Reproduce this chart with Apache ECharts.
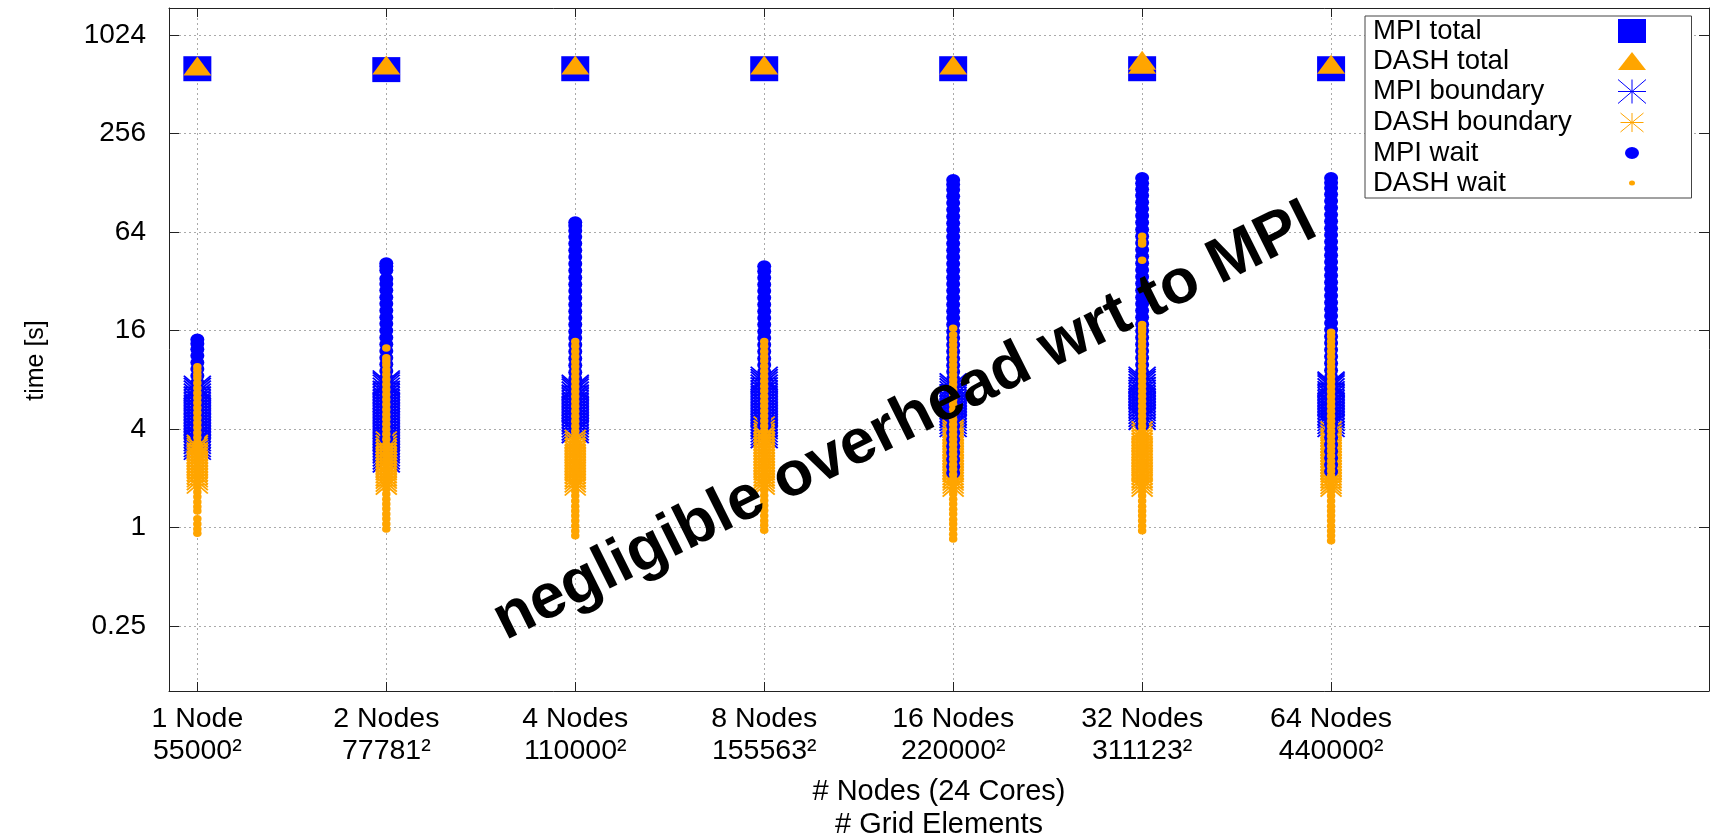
<!DOCTYPE html>
<html><head><meta charset="utf-8">
<script src="https://cdn.jsdelivr.net/npm/echarts@6/dist/echarts.min.js"></script>
<style>html,body{margin:0;padding:0;background:#fff}#c{width:1714px;height:835px}</style>
</head><body><div id="c"></div>
<script>
// ---------------- data ----------------
const categories = ['1 Node', '2 Nodes', '4 Nodes', '8 Nodes', '16 Nodes', '32 Nodes', '64 Nodes'];
const gridElements = ['55000²', '77781²', '110000²', '155563²', '220000²', '311123²', '440000²'];
const yTicks = [0.25, 1, 4, 16, 64, 256, 1024];

const mpiTotal = [[638], [630], [638], [638], [638], [638], [638]];
const dashTotal = [[664], [672], [672], [672], [672], [680, 718], [680]];

const mpiBoundary = [
  [3.05, 3.17, 3.31, 3.44, 3.6, 3.74, 3.91, 4.07, 4.25, 4.43, 4.61, 4.81, 5.02, 5.23, 5.46, 5.69, 5.93, 6.18, 6.45, 6.72, 6.98, 7.2],
  [2.55, 2.66, 2.78, 2.9, 3.02, 3.15, 3.29, 3.43, 3.58, 3.73, 3.89, 4.06, 4.23, 4.41, 4.6, 4.8, 5.0, 5.22, 5.44, 5.67, 5.92, 6.17, 6.44, 6.71, 7.0, 7.3, 7.55, 7.75],
  [3.85, 4.01, 4.18, 4.36, 4.55, 4.74, 4.95, 5.16, 5.38, 5.61, 5.85, 6.1, 6.36, 6.63, 6.92, 7.12, 7.3],
  [3.59, 3.74, 3.9, 4.07, 4.24, 4.42, 4.61, 4.81, 5.02, 5.23, 5.45, 5.69, 5.93, 6.19, 6.45, 6.73, 7.02, 7.32, 7.63, 7.91, 8.17],
  [4.2, 4.38, 4.57, 4.76, 4.97, 5.18, 5.4, 5.63, 5.87, 6.12, 6.38, 6.66, 6.94, 7.2, 7.45],
  [4.65, 4.85, 5.05, 5.27, 5.5, 5.73, 5.98, 6.23, 6.5, 6.78, 7.07, 7.37, 7.68, 7.93, 8.17],
  [4.2, 4.38, 4.57, 4.76, 4.97, 5.18, 5.4, 5.63, 5.87, 6.12, 6.38, 6.66, 6.94, 7.24, 7.45, 7.62]
];
const dashBoundary = [
  [1.83, 1.92, 2.0, 2.09, 2.18, 2.27, 2.37, 2.47, 2.58, 2.69, 2.8, 2.92, 3.05, 3.15, 3.24],
  [1.8, 1.88, 1.96, 2.04, 2.13, 2.22, 2.32, 2.42, 2.52, 2.63, 2.74, 2.86, 2.98, 3.11, 3.24, 3.4],
  [1.78, 1.86, 1.94, 2.02, 2.11, 2.2, 2.29, 2.39, 2.49, 2.6, 2.71, 2.83, 2.95, 3.08, 3.21, 3.35, 3.48],
  [1.8, 1.88, 1.96, 2.04, 2.13, 2.22, 2.32, 2.42, 2.52, 2.63, 2.74, 2.86, 2.98, 3.11, 3.24, 3.38, 3.53, 3.68, 3.84, 4.0, 4.2],
  [1.75, 1.83, 1.91, 1.99, 2.07, 2.16, 2.25, 2.35, 2.45, 2.56, 2.67, 2.78, 2.9, 3.03, 3.16, 3.3, 3.44, 3.59, 3.75, 3.88, 4.02],
  [1.75, 1.83, 1.91, 1.99, 2.08, 2.17, 2.26, 2.36, 2.46, 2.57, 2.68, 2.8, 2.92, 3.04, 3.17, 3.31, 3.45, 3.6, 3.76, 3.92],
  [1.75, 1.82, 1.9, 1.98, 2.07, 2.16, 2.25, 2.35, 2.45, 2.55, 2.66, 2.78, 2.9, 3.02, 3.15, 3.29, 3.43, 3.58, 3.74, 3.92]
];
const mpiWait = [
  [3.6, 3.95, 4.35, 4.8, 5.25, 5.8, 6.35, 7.0, 7.7, 8.45, 9.3, 10.2, 11.2, 12.3, 13.3, 14.1],
  [3.5, 3.85, 4.25, 4.65, 5.1, 5.6, 6.2, 6.8, 7.5, 8.25, 9.05, 9.95, 10.9, 12.0, 13.2, 14.5, 16.0, 17.6, 19.3, 21.2, 23.3, 25.6, 28.2, 30.8, 33.2, 37.4, 39.5, 41.2],
  [4.2, 4.6, 5.05, 5.55, 6.1, 6.7, 7.4, 8.1, 8.9, 9.8, 10.8, 11.9, 13.1, 14.4, 15.8, 17.4, 19.1, 21.0, 23.1, 25.4, 27.9, 30.7, 33.8, 37.2, 40.9, 45.0, 49.5, 54.4, 59.8, 65.2, 70.0, 73.5],
  [4.2, 4.6, 5.1, 5.6, 6.15, 6.75, 7.4, 8.15, 8.95, 9.85, 10.8, 11.9, 13.1, 14.4, 15.8, 17.4, 19.1, 21.0, 23.1, 25.4, 27.9, 30.6, 33.6, 36.8, 39.6],
  [2.15, 2.36, 2.6, 2.86, 3.14, 3.45, 3.8, 4.18, 4.6, 5.05, 5.55, 6.1, 6.72, 7.4, 8.12, 8.95, 9.82, 10.8, 11.9, 13.1, 14.4, 15.8, 17.4, 19.1, 21.0, 23.1, 25.4, 28.0, 30.8, 33.8, 37.2, 40.9, 45.0, 49.5, 54.5, 59.9, 65.9, 72.5, 79.7, 87.7, 96.4, 106, 116, 125, 133],
  [4.2, 4.62, 5.08, 5.58, 6.14, 6.75, 7.43, 8.17, 8.99, 9.88, 10.9, 12.0, 13.2, 14.5, 15.9, 17.5, 19.3, 21.2, 23.3, 25.6, 28.2, 31.0, 34.1, 37.5, 41.3, 45.4, 49.9, 54.9, 60.4, 66.4, 73.1, 80.4, 88.4, 97.2, 107, 117, 127, 137],
  [2.2, 2.42, 2.66, 2.92, 3.21, 3.53, 3.88, 4.27, 4.7, 5.17, 5.68, 6.25, 6.88, 7.56, 8.32, 9.15, 10.1, 11.1, 12.2, 13.4, 14.7, 16.2, 17.8, 19.6, 21.6, 23.7, 26.1, 28.7, 31.6, 34.7, 38.2, 42.0, 46.2, 50.8, 55.9, 61.5, 67.6, 74.4, 81.8, 90.0, 99.0, 109, 119, 128, 137]
];
const dashWait = [
  [0.92, 0.98, 1.05, 1.13, 1.26, 1.34, 1.43, 1.54, 1.65, 1.77, 1.9, 2.04, 2.18, 2.34, 2.51, 2.69, 2.88, 3.09, 3.31, 3.55, 3.8, 4.08, 4.37, 4.69, 5.03, 5.39, 5.78, 6.2, 6.65, 7.13, 7.64, 8.2, 8.62, 9.1, 9.6],
  [0.98, 1.05, 1.13, 1.21, 1.3, 1.39, 1.49, 1.6, 1.72, 1.84, 1.98, 2.12, 2.27, 2.44, 2.61, 2.8, 3.01, 3.22, 3.46, 3.71, 3.98, 4.27, 4.58, 4.91, 5.26, 5.65, 6.06, 6.5, 6.97, 7.47, 8.02, 8.6, 9.22, 9.89, 10.4, 10.9, 12.5],
  [0.89, 0.95, 1.02, 1.1, 1.18, 1.26, 1.35, 1.45, 1.56, 1.67, 1.79, 1.92, 2.06, 2.21, 2.37, 2.54, 2.73, 2.93, 3.14, 3.37, 3.61, 3.87, 4.15, 4.46, 4.78, 5.13, 5.5, 5.9, 6.33, 6.79, 7.28, 7.81, 8.38, 8.99, 9.64, 10.3, 11.1, 11.9, 12.8, 13.7],
  [0.96, 1.03, 1.1, 1.18, 1.27, 1.36, 1.46, 1.57, 1.68, 1.8, 1.93, 2.07, 2.22, 2.38, 2.55, 2.74, 2.94, 3.15, 3.38, 3.63, 3.89, 4.17, 4.48, 4.8, 5.15, 5.52, 5.92, 6.35, 6.82, 7.31, 7.84, 8.41, 9.02, 9.68, 10.4, 11.1, 11.9, 12.8, 13.7],
  [0.85, 0.91, 0.98, 1.05, 1.12, 1.21, 1.29, 1.39, 1.49, 1.6, 1.71, 1.84, 1.97, 2.11, 2.27, 2.43, 2.61, 2.8, 3.0, 3.22, 3.45, 3.7, 3.97, 4.26, 4.57, 4.9, 5.26, 5.64, 6.05, 6.49, 6.96, 7.47, 8.01, 8.59, 9.22, 9.89, 10.6, 11.4, 12.2, 13.1, 14.0, 15.1, 16.5],
  [0.955, 1.02, 1.1, 1.18, 1.26, 1.35, 1.45, 1.56, 1.67, 1.79, 1.92, 2.06, 2.21, 2.37, 2.54, 2.73, 2.93, 3.14, 3.37, 3.61, 3.88, 4.16, 4.46, 4.79, 5.14, 5.51, 5.91, 6.34, 6.8, 7.3, 7.83, 8.4, 9.01, 9.67, 10.4, 11.1, 11.9, 12.8, 13.7, 14.7, 15.8, 16.6, 17.4, 43, 54, 56.3, 60.4],
  [0.83, 0.89, 0.95, 1.02, 1.1, 1.18, 1.26, 1.35, 1.45, 1.56, 1.67, 1.79, 1.92, 2.06, 2.21, 2.37, 2.54, 2.73, 2.93, 3.14, 3.37, 3.61, 3.87, 4.15, 4.46, 4.78, 5.13, 5.5, 5.9, 6.33, 6.79, 7.28, 7.81, 8.38, 8.99, 9.64, 10.3, 11.1, 11.9, 12.8, 13.7, 14.7, 15.6]
];
const annotation = 'negligible overhead wrt to MPI';

// ---------------- chart ----------------
const FONT = "'Liberation Sans', Arial, Helvetica, sans-serif";
const BLUE = '#0000ff', ORANGE = '#ffa500';
const ASTER = 'path://M0,1 L2,1 M1,0 L1,2 M0,0 L2,2 M2,0 L0,2';
function pts(cols) { const out = []; cols.forEach((arr, i) => arr.forEach(v => out.push([i, v]))); return out; }
const xIdx = categories.map((c, i) => i);

const chart = echarts.init(document.getElementById('c'), null, { renderer: 'canvas' });
const axisLineStyle = { color: '#222', width: 1 };
const option = {
  animation: false,
  backgroundColor: '#fff',
  grid: { left: 169, top: 8, right: 5, bottom: 144, containLabel: false, outerBoundsMode: 'none' },
  xAxis: [{
    type: 'value', min: -0.15, max: 8, position: 'bottom',
    axisLine: { show: true, onZero: false, lineStyle: axisLineStyle },
    axisTick: { show: true, inside: true, length: 9, customValues: xIdx, lineStyle: axisLineStyle },
    axisLabel: {
      customValues: xIdx, margin: 12, color: '#000', fontFamily: FONT, fontSize: 28.5, lineHeight: 32,
      formatter: v => { const i = Math.round(v); return categories[i] + '\n' + gridElements[i]; }
    },
    splitLine: { show: true, lineStyle: { color: '#aaa', type: [2, 3], width: 1 } },
    name: '# Nodes (24 Cores)\n# Grid Elements', nameLocation: 'middle', nameGap: 84,
    nameTextStyle: { color: '#000', fontFamily: FONT, fontSize: 29, lineHeight: 33 }
  }, {
    type: 'value', min: -0.15, max: 8, position: 'top',
    axisLine: { show: true, onZero: false, lineStyle: axisLineStyle },
    axisTick: { show: true, inside: true, length: 9, customValues: xIdx, lineStyle: axisLineStyle },
    axisLabel: { show: false }, splitLine: { show: false }
  }],
  yAxis: [{
    type: 'log', logBase: 4, min: 0.1, max: 1500, position: 'left',
    axisLine: { show: true, onZero: false, lineStyle: axisLineStyle },
    axisTick: { show: true, inside: true, length: 10, customValues: yTicks, lineStyle: axisLineStyle },
    axisLabel: { customValues: yTicks, margin: 23, color: '#000', fontFamily: FONT, fontSize: 28, formatter: v => String(v) },
    splitLine: { show: true, lineStyle: { color: '#aaa', type: [2, 3], width: 1 } },
    name: 'time [s]', nameLocation: 'middle', nameGap: 120,
    nameTextStyle: { color: '#000', fontFamily: FONT, fontSize: 25, padding: [0, 22, 0, 0] }
  }, {
    type: 'log', logBase: 4, min: 0.1, max: 1500, position: 'right',
    axisLine: { show: true, onZero: false, lineStyle: axisLineStyle },
    axisTick: { show: true, inside: true, length: 10, customValues: yTicks, lineStyle: axisLineStyle },
    axisLabel: { show: false }, splitLine: { show: false }
  }],
  legend: {
    orient: 'vertical', left: 1365, top: 16, align: 'right',
    itemWidth: 28, itemHeight: 28, itemGap: 2,
    padding: [1, 45, 1, 8],
    borderColor: '#444', borderWidth: 1, backgroundColor: '#fff',
    formatter: '{t|{name}}',
    textStyle: { color: '#000', fontFamily: FONT, fontSize: 27.5,
      rich: { t: { width: 240, align: 'left', color: '#000', fontFamily: FONT, fontSize: 27.5 } } },
    selectedMode: false,
    data: [
      { name: 'MPI total', icon: 'path://M0,0 M28,28 M0,2 L28,2 L28,26 L0,26 Z', itemStyle: { color: BLUE, borderWidth: 0, opacity: 1 } },
      { name: 'DASH total', icon: 'path://M0,0 M28,28 M14,5 L28,23 L0,23 Z', itemStyle: { color: ORANGE, borderWidth: 0, opacity: 1 } },
      { name: 'MPI boundary', icon: 'path://M0,0 M28,28 M0,14 L28,14 M14,2 L14,26 M0,2 L28,26 M28,2 L0,26', itemStyle: { color: BLUE, borderColor: BLUE, borderWidth: 1, opacity: 1 } },
      { name: 'DASH boundary', icon: 'path://M0,0 M28,28 M2.5,14 L25.5,14 M14,4.5 L14,23.5 M2.5,4.5 L25.5,23.5 M25.5,4.5 L2.5,23.5', itemStyle: { color: ORANGE, borderColor: ORANGE, borderWidth: 1, opacity: 1 } },
      { name: 'MPI wait', icon: 'path://M0,0 M28,28 M21,14 A7,6 0 1 1 7,14 A7,6 0 1 1 21,14 Z', itemStyle: { color: BLUE, borderWidth: 0, opacity: 1 } },
      { name: 'DASH wait', icon: 'path://M0,0 M28,28 M17,14 A3,2.5 0 1 1 11,14 A3,2.5 0 1 1 17,14 Z', itemStyle: { color: ORANGE, borderWidth: 0, opacity: 1 } }
    ],
    z: 20
  },
  graphic: [{
    type: 'text', x: 905, y: 422, rotation: 26.5 * Math.PI / 180, z: 50,
    style: { text: annotation, fill: '#000', font: 'bold 63px ' + FONT, align: 'center', verticalAlign: 'middle',
      textAlign: 'center', textVerticalAlign: 'middle' }
  }],
  series: [
    { name: 'MPI total', type: 'scatter', symbol: 'rect', symbolSize: [28, 25], itemStyle: { color: BLUE, opacity: 1 }, data: pts(mpiTotal), silent: true },
    { name: 'DASH total', type: 'scatter', symbol: 'triangle', symbolSize: [28, 19], itemStyle: { color: ORANGE, opacity: 1 }, data: pts(dashTotal), silent: true },
    { name: 'MPI boundary', type: 'scatter', symbol: ASTER, symbolSize: [27, 23], itemStyle: { color: BLUE, borderColor: BLUE, borderWidth: 1.8, opacity: 1 }, data: pts(mpiBoundary), silent: true },
    { name: 'DASH boundary', type: 'scatter', symbol: ASTER, symbolSize: [21, 18], itemStyle: { color: ORANGE, borderColor: ORANGE, borderWidth: 1.8, opacity: 1 }, data: pts(dashBoundary), silent: true },
    { name: 'MPI wait', type: 'scatter', symbol: 'circle', symbolSize: [14, 12], itemStyle: { color: BLUE, opacity: 1 }, data: pts(mpiWait), silent: true },
    { name: 'DASH wait', type: 'scatter', symbol: 'circle', symbolSize: [8.5, 7.5], itemStyle: { color: ORANGE, opacity: 1 }, data: pts(dashWait), silent: true }
  ]
};
chart.setOption(option);
</script></body></html>
